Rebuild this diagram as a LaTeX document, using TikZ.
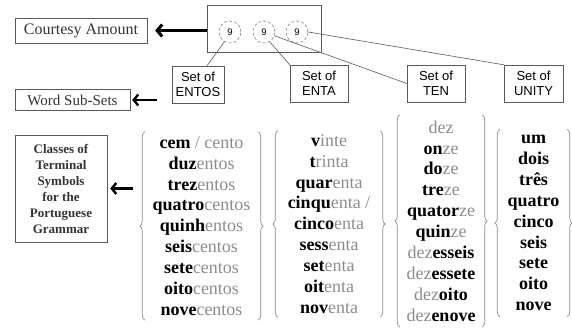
\documentclass[tikz,border=0pt]{standalone}
\usepackage{fontspec}
\setmainfont{Liberation Serif}
\setsansfont{Liberation Sans}
\usetikzlibrary{shapes,arrows.meta,calc,decorations.pathreplacing}
\definecolor{boxgray}{gray}{0.35}
\definecolor{softgray}{gray}{0.55}
\newcommand{\bw}[1]{\textbf{#1}}
\newcommand{\lw}[1]{\textcolor{softgray}{#1}}
\tikzstyle{block} = [draw=boxgray, rectangle, text centered, inner sep=1pt]
\tikzstyle{setbox} = [block, align=center, minimum height=37pt, font=\sffamily\fontsize{13}{15.5}\selectfont]
\tikzstyle{digit} = [draw=boxgray, circle, densely dashed, minimum size=22pt, inner sep=0pt, font=\sffamily\fontsize{9.5}{9.5}\selectfont]
\tikzstyle{column} = [align=center, inner sep=0pt, font=\fontsize{18}{20.9}\selectfont]
\tikzstyle{line} = [draw=boxgray, line width=0.6pt]
\tikzstyle{brace} = [draw=softgray, line width=0.7pt, decorate, decoration={brace, amplitude=5pt}]
\tikzstyle{fat} = [draw, line width=3pt, -{Straight Barb[length=5pt, width=12pt]}]
\tikzstyle{thin} = [draw, line width=2.4pt, -{Straight Barb[length=4.5pt, width=11pt]}]

\begin{document}
\begin{tikzpicture}[x=1pt, y=-1pt, node distance=34pt]
        \useasboundingbox (0,0) rectangle (572,331);
        % top row
        \node[block, minimum width=132pt, minimum height=25pt, font=\fontsize{16}{16}\selectfont, text=black!80] (courtesy) at (81,30.5) {Courtesy Amount};
        \node[block, minimum width=114pt, minimum height=47pt] (number) at (264,28.5) {};
        \node[digit] (d1) at (230,32) {9};
        \node[digit, right of=d1] (d2) {9};
        \node[digit, right of=d2, node distance=33pt] (d3) {9};
        % sets
        \node[block, minimum width=115pt, minimum height=21pt, font=\fontsize{15}{15}\selectfont, text=black!80] (wordsub) at (72.5,100) {Word Sub-Sets};
        \node[setbox, minimum width=52pt] (entos) at (198,84.5) {Set of\\ENTOS};
        \node[setbox, minimum width=58pt] (enta) at (319,83.5) {Set of\\ENTA};
        \node[setbox, minimum width=58pt] (ten) at (436,83.5) {Set of\\TEN};
        \node[setbox, minimum width=59pt] (unity) at (533.5,83.5) {Set of\\UNITY};
        % terminal symbols
        \node[block, align=center, minimum width=92pt, minimum height=107pt, font=\bfseries\fontsize{13}{16}\selectfont, text=black!80] (classes) at (61,188.5) {Classes of\\Terminal\\Symbols\\for the\\Portuguese\\Grammar};
        \node[column, minimum width=113pt, minimum height=188pt] (entoscol) at (201.5,226) {\bw{cem} \lw{/ cento}\\\bw{duz}\lw{entos}\\\bw{trez}\lw{entos}\\\bw{quatro}\lw{centos}\\\bw{quinh}\lw{entos}\\\bw{seis}\lw{centos}\\\bw{sete}\lw{centos}\\\bw{oito}\lw{centos}\\\bw{nove}\lw{centos}};
        \node[column, minimum width=102pt, minimum height=186pt] (entacol) at (329,224) {\bw{v}\lw{inte}\\\bw{t}\lw{rinta}\\\bw{quar}\lw{enta}\\\bw{cinqu}\lw{enta /}\\\bw{cinco}\lw{enta}\\\bw{sess}\lw{enta}\\\bw{set}\lw{enta}\\\bw{oit}\lw{enta}\\\bw{nov}\lw{enta}};
        \node[column, minimum width=82pt, minimum height=212pt] (tencol) at (441,221) {\lw{dez}\\\bw{on}\lw{ze}\\\bw{do}\lw{ze}\\\bw{tre}\lw{ze}\\\bw{quator}\lw{ze}\\\bw{quin}\lw{ze}\\\lw{dez}\bw{esseis}\\\lw{dez}\bw{essete}\\\lw{dez}\bw{oito}\\\lw{dez}\bw{enove}};
        \node[column, minimum width=67pt, minimum height=187pt, font=\bfseries\fontsize{18}{20.9}\selectfont] (unitycol) at (533.5,223) {um\\dois\\três\\quatro\\cinco\\seis\\sete\\oito\\nove};
        % braces
        \foreach \col in {entoscol, entacol, tencol, unitycol} {
            \draw[brace] (\col.south west) -- (\col.north west);
            \draw[brace] (\col.north east) -- (\col.south east);
        }
        % connectors
        \path[line] (d1.240) -- ([xshift=9pt]entos.north);
        \path[line] (d2.300) -- (enta.north west);
        \path[line] (d2.340) -- (ten.west);
        \path[line] (d3.east) -- (unity.north west);
        \path[fat, shorten >=8pt] (number.west |- courtesy.east) -- (courtesy.east);
        \path[thin, shorten <=15pt, shorten >=2pt] (wordsub.east -| entos.west) -- (wordsub.east);
        \path[thin, shorten <=12pt, shorten >=3pt] (classes.east -| entoscol.west) -- (classes.east);
    \end{tikzpicture}
\end{document}
